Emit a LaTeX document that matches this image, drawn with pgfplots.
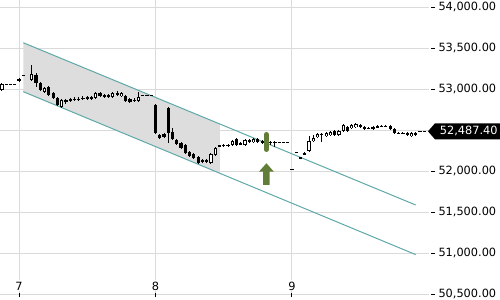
\documentclass[border=0pt]{standalone}
\usepackage{fontspec}
\setmainfont{DejaVu Sans}
\usepackage{pgfplots}
\usepackage{pgfplotstable}
\pgfplotsset{compat=1.18}
\definecolor{gridgray}{HTML}{DADADA}
\definecolor{chan}{HTML}{5FA8A8}
\definecolor{shade}{HTML}{DDDDDD}
\definecolor{olivegr}{HTML}{627D37}

\pgfplotstableread{
x o h l c
6.875 52991 53077 52979 53065
6.90625 53065 53065 53065 53065
6.9375 53065 53065 53065 53065
6.96875 53065 53065 53065 53065
7.0 53101 53138 53089 53126
7.03125 53175 53175 53175 53175
7.09375 53113 53296 53101 53187
7.125 53175 53199 53028 53077
7.15625 53077 53089 52979 52991
7.1875 52967 53028 52955 53016
7.21875 53028 53040 52918 52930
7.25 52955 52967 52882 52894
7.28125 52894 52906 52796 52809
7.3125 52784 52882 52772 52870
7.34375 52870 52882 52821 52845
7.375 52857 52894 52845 52882
7.40625 52882 52906 52857 52882
7.4375 52882 52906 52857 52882
7.46875 52894 52918 52870 52894
7.5 52882 52918 52870 52906
7.53125 52906 52918 52870 52882
7.5625 52894 52967 52882 52955
7.59375 52955 52967 52906 52918
7.625 52930 52942 52894 52906
7.65625 52930 52942 52894 52906
7.6875 52906 52967 52894 52955
7.71875 52955 52979 52918 52930
7.75 52918 52967 52906 52955
7.78125 52918 52930 52845 52857
7.8125 52882 52894 52833 52845
7.84375 52870 52894 52845 52870
7.875 52857 52967 52845 52906
7.90625 52930 52930 52930 52930
7.9375 52930 52930 52930 52930
7.96875 52930 52930 52930 52930
8.0 52809 52821 52455 52467
8.03125 52443 52455 52394 52406
8.0625 52455 52467 52406 52418
8.09375 52772 52784 52345 52467
8.125 52479 52528 52382 52394
8.15625 52382 52394 52321 52333
8.1875 52345 52357 52272 52284
8.21875 52321 52333 52211 52223
8.25 52235 52248 52174 52187
8.28125 52211 52223 52150 52162
8.3125 52174 52187 52089 52101
8.34375 52126 52150 52101 52126
8.375 52138 52150 52101 52113
8.40625 52101 52223 52089 52211
8.4375 52199 52296 52187 52284
8.46875 52309 52321 52296 52309
8.5 52315 52333 52296 52315
8.53125 52315 52333 52296 52315
8.5625 52321 52382 52309 52369
8.59375 52394 52406 52309 52321
8.625 52345 52357 52321 52333
8.65625 52321 52394 52309 52382
8.6875 52382 52394 52345 52357
8.71875 52357 52406 52345 52394
8.75 52394 52406 52345 52357
8.78125 52369 52382 52333 52345
8.8125 52357 52369 52333 52345
8.84375 52357 52369 52321 52357
8.875 52357 52369 52296 52357
8.90625 52357 52357 52357 52357
8.9375 52357 52357 52357 52357
8.96875 52357 52357 52357 52357
9.0 52028 52028 52028 52028
9.03125 52235 52235 52235 52235
9.0625 52174 52174 52162 52162
9.09375 52223 52235 52199 52211
9.125 52248 52430 52235 52369
9.15625 52369 52443 52357 52406
9.1875 52418 52467 52406 52455
9.21875 52455 52467 52357 52443
9.25 52430 52479 52418 52467
9.28125 52443 52491 52430 52479
9.3125 52491 52504 52430 52443
9.34375 52443 52504 52430 52491
9.375 52491 52577 52479 52565
9.40625 52540 52552 52479 52491
9.4375 52528 52577 52516 52565
9.46875 52540 52589 52528 52577
9.5 52565 52577 52528 52540
9.53125 52540 52552 52504 52516
9.5625 52528 52540 52516 52528
9.59375 52540 52552 52504 52516
9.625 52552 52565 52528 52540
9.65625 52552 52565 52540 52552
9.6875 52552 52565 52540 52552
9.71875 52552 52565 52504 52516
9.75 52516 52528 52455 52467
9.78125 52467 52479 52455 52467
9.8125 52467 52479 52455 52467
9.84375 52467 52479 52430 52443
9.875 52430 52479 52418 52467
9.90625 52443 52479 52430 52467
9.9375 52487.4 52487.4 52487.4 52487.4
9.96875 52487.4 52487.4 52487.4 52487.4
}\candles

\begin{document}
\begin{tikzpicture}
\path[use as bounding box] (0,-2.25pt) rectangle (375pt,222.75pt);
\begin{axis}[
  at={(0,0)}, anchor=south west,
  scale only axis, width=321.75pt, height=222.75pt,
  xmin=6.8608, xmax=10.0037, ymin=50467, ymax=54089,
  axis x line*=bottom, axis y line*=right,
  axis line style={draw=none},
  xtick={7,8,9}, xticklabels={7,8,9},
  ytick={50500,51000,51500,52000,53000,53500,54000},
  extra y ticks={52500}, extra y tick labels={},
  grid=major, grid style={color=gridgray, line width=0.75pt},
  tick align=inside, major tick length=3pt,
  xtick style={black, line width=0.75pt},
  ytick style={black, line width=0.75pt, xshift=4.5pt},
  scaled y ticks=false,
  yticklabel style={/pgf/number format/fixed, /pgf/number format/fixed zerofill, /pgf/number format/precision=2, /pgf/number format/1000 sep={,}, /pgf/number format/assume math mode=true},
  yticklabel style={font=\fontsize{8.5}{10}\selectfont, xshift=3.6pt, text=black},
  xticklabel style={font=\fontsize{8.5}{10}\selectfont, anchor=base, yshift=5.25pt, fill=white, inner sep=1pt, text=black},
  clip=true,
]
% shaded channel region
\addplot[fill=shade, draw=none, forget plot] coordinates {(7.03125,53568) (8.4725,52576) (8.4725,51979) (7.03125,52971)} -- cycle;
% channel lines
\addplot[chan, line width=0.75pt, forget plot] coordinates {(7.03125,53568) (9.90625,51589)};
\addplot[chan, line width=0.75pt, forget plot] coordinates {(7.03125,52971) (9.90625,50984)};
% wicks
\addplot[draw=none, mark=none, forget plot,
  error bars/.cd, y dir=both, y explicit, error mark=none,
  error bar style={draw=black, line width=0.75pt}]
  table[x=x, y expr={(\thisrow{h}+\thisrow{l})/2}, y error expr={(\thisrow{h}-\thisrow{l})/2}] {\candles};
% bodies
\addplot[draw=none, mark=none, forget plot,
  error bars/.cd, y dir=both, y explicit, error mark=none,
  error bar style={draw=black, line width=2.4pt, line cap=butt}]
  table[x=x, y expr={(\thisrow{o}+\thisrow{c})/2}, y error expr={max(abs(\thisrow{o}-\thisrow{c})/2,6)}] {\candles};
% hollow interior of up candles
\addplot[draw=none, mark=none, forget plot,
  restrict expr to domain={\thisrow{c}-\thisrow{o}}{30:100000},
  error bars/.cd, y dir=both, y explicit, error mark=none,
  error bar style={draw=white, line width=0.9pt, line cap=butt}]
  table[x=x, y expr={(\thisrow{o}+\thisrow{c})/2}, y error expr={(\thisrow{c}-\thisrow{o})/2-12}] {\candles};
% highlight bar
\addplot[olivegr, line width=3.75pt, line cap=round, forget plot] coordinates {(8.8125,52449) (8.8125,52266)};
% arrow
\addplot[fill=olivegr, draw=none, forget plot] coordinates {(8.8125,52098) (8.8674,51995) (8.8359,51995) (8.8359,51833) (8.7891,51833) (8.7891,51995) (8.7576,51995)} -- cycle;
\coordinate (lp) at (axis cs:9.9963,52487.4);
\end{axis}
\fill[black] (lp) -- ++(5.25pt,6pt) -- ++(49pt,0) -- ++(0,-12pt) -- ++(-49pt,0) -- cycle;
\node[text=white, font=\fontsize{8.5}{10}\selectfont, anchor=center] at ([xshift=30.6pt]lp) {52,487.40};
\end{tikzpicture}
\end{document}
